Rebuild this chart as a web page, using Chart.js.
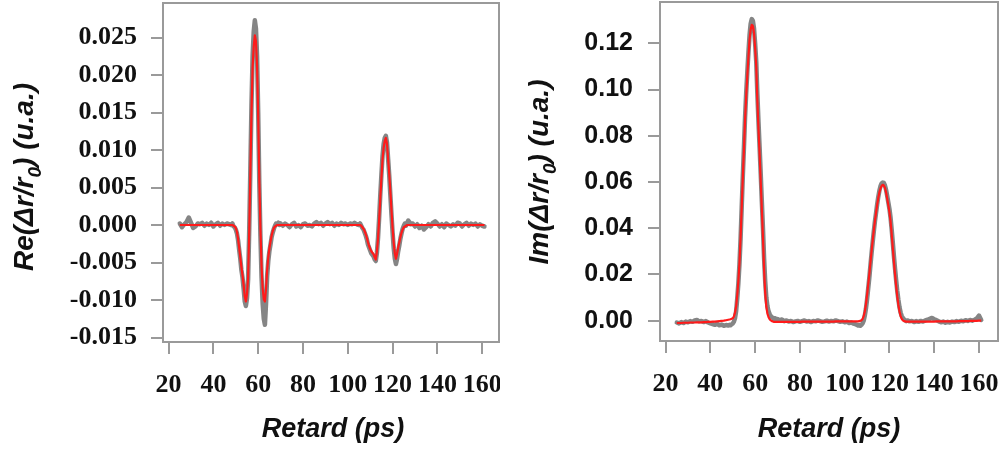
<!DOCTYPE html>
<html>
<head>
<meta charset="utf-8">
<script src="https://cdn.jsdelivr.net/npm/chart.js@4"></script>
<style>
body { margin: 0; background: #fff; width: 1000px; height: 450px; position: relative; overflow: hidden; }
canvas { position: absolute; top: 0; }
#reChart { left: 0; }
#imChart { left: 500px; }
</style>
</head>
<body>
<canvas id="reChart" width="500" height="450"></canvas>
<canvas id="imChart" width="500" height="450"></canvas>
<script>
// Retard (ps) - shared x grid for both panels
var retard = [
    25,26,27,28,29,30,31,32,33,34,35,36,37,38,39,40,41,42,43,44,45,46,47,48,
    48.5,49,49.5,50,50.5,51,51.5,52,52.5,53,53.5,54,54.5,55,55.5,56,56.5,57,57.5,58,
    58.5,59,59.5,60,60.5,61,61.5,62,62.5,63,63.5,64,64.5,65,65.5,66,66.5,67,67.5,68,68.5,69,69.5,70,
    71,72,73,74,75,76,77,78,79,80,81,82,83,84,85,86,87,88,89,90,91,92,93,94,95,96,97,98,99,100,101,102,103,104,105,
    105.5,106,106.5,107,107.5,108,108.5,109,109.5,110,110.5,111,111.5,112,112.5,113,113.5,114,114.5,115,
    115.5,116,116.5,117,117.5,118,118.5,119,119.5,120,120.5,121,121.5,122,122.5,123,123.5,124,124.5,125,
    125.5,126,126.5,127,127.5,128,
    129,130,131,132,133,134,135,136,137,138,139,140,141,142,143,144,145,146,147,148,149,150,151,152,153,154,155,156,157,158,159,160,161
];

// Re(dr/r0) - measured (gray)
var reData = [
    0.0002,-0.0003,0.0001,0.0004,0.0010,0.0003,-0.0004,-0.0002,0.0002,0.0001,0.0003,-0.0001,0.0002,0.0000,0.0003,-0.0002,0.0001,0.0003,-0.0001,0.0002,0.0000,0.0002,0.0001,0.0000,
    0.0002,-0.0002,-0.0003,-0.0006,-0.0011,-0.0020,-0.0033,-0.0045,-0.0060,-0.0070,-0.0085,-0.0102,-0.0108,-0.0098,-0.0072,-0.0005,0.0075,0.0160,0.0225,0.0258,
    0.0273,0.0262,0.0225,0.0150,0.0055,-0.0015,-0.0070,-0.0105,-0.0125,-0.0133,-0.0105,-0.0068,-0.0048,-0.0035,-0.0026,-0.0016,-0.0010,-0.0005,-0.0001,0.0002,0.0001,0.0003,0.0000,0.0002,
    -0.0001,0.0002,0.0000,-0.0003,0.0001,0.0003,-0.0002,0.0000,-0.0003,0.0001,0.0002,-0.0001,0.0000,-0.0002,0.0002,0.0004,0.0001,0.0003,-0.0001,0.0002,0.0004,0.0001,0.0003,-0.0001,0.0002,0.0000,0.0003,0.0001,0.0002,0.0000,0.0002,0.0001,0.0003,0.0001,0.0000,
    0.0002,-0.0001,-0.0004,-0.0006,-0.0010,-0.0014,-0.0019,-0.0026,-0.0030,-0.0034,-0.0038,-0.0040,-0.0042,-0.0046,-0.0048,-0.0037,-0.0017,0.0010,0.0040,0.0067,
    0.0092,0.0108,0.0116,0.0119,0.0110,0.0088,0.0066,0.0040,0.0014,-0.0010,-0.0031,-0.0045,-0.0052,-0.0045,-0.0035,-0.0027,-0.0018,-0.0011,-0.0005,-0.0001,
    0.0002,-0.0001,0.0003,0.0006,0.0004,0.0001,
    0.0002,-0.0002,0.0001,-0.0004,-0.0001,-0.0006,-0.0003,0.0001,-0.0002,0.0003,0.0005,0.0002,-0.0002,0.0001,-0.0003,0.0002,0.0000,-0.0002,0.0001,-0.0001,0.0003,0.0002,-0.0002,0.0001,0.0003,-0.0001,0.0002,0.0000,0.0002,-0.0002,0.0001,-0.0001,-0.0002
];

// Re(dr/r0) - fit (red)
var reFit = [
    0,0,0,0,0,0,0,0,0,0,0,0,0,0,0,0,0,0,0,0,0,0,0,0,
    0,-0.0001,-0.0002,-0.0004,-0.0009,-0.0018,-0.0030,-0.0043,-0.0056,-0.0067,-0.0080,-0.0095,-0.0102,-0.0092,-0.0070,-0.0008,0.0070,0.0150,0.0210,0.0238,
    0.0253,0.0245,0.0212,0.0145,0.0060,-0.0005,-0.0055,-0.0085,-0.0099,-0.0102,-0.0085,-0.0060,-0.0043,-0.0031,-0.0022,-0.0014,-0.0008,-0.0004,-0.0002,-0.0001,0,0,0,0,
    0,0,0,0,0,0,0,0,0,0,0,0,0,0,0,0,0,0,0,0,0,0,0,0,0,0,0,0,0,0,0,0,0,0,0,
    0,-0.0001,-0.0003,-0.0005,-0.0008,-0.0012,-0.0017,-0.0023,-0.0028,-0.0032,-0.0035,-0.0037,-0.0039,-0.0043,-0.0046,-0.0035,-0.0018,0.0007,0.0035,0.0062,
    0.0087,0.0103,0.0112,0.0116,0.0108,0.0088,0.0068,0.0045,0.0020,-0.0004,-0.0024,-0.0038,-0.0045,-0.0038,-0.0030,-0.0023,-0.0016,-0.0010,-0.0006,-0.0003,
    -0.0002,-0.0001,0,0,0,0,
    0,0,0,0,0,0,0,0,0,0,0,0,0,0,0,0,0,0,0,0,0,0,0,0,0,0,0,0,0,0,0,0,0
];

// Im(dr/r0) - measured (gray)
var imData = [
    -0.0008,-0.0012,-0.0006,-0.0010,-0.0004,-0.0007,-0.0002,-0.0005,0.0001,0.0003,-0.0003,-0.0001,-0.0006,-0.0002,-0.0008,-0.0012,-0.0015,-0.0018,-0.0014,-0.0020,-0.0017,-0.0022,-0.0019,-0.0021,
    -0.0018,-0.0020,-0.0016,-0.0012,-0.0005,0.0010,0.0040,0.0095,0.0160,0.0245,0.0355,0.0490,0.0625,0.0750,0.0880,0.0985,0.1075,0.1160,0.1235,0.1285,
    0.1305,0.1298,0.1265,0.1200,0.1120,0.0980,0.0860,0.0750,0.0635,0.0515,0.0400,0.0270,0.0170,0.0100,0.0062,0.0040,0.0028,0.0020,0.0014,0.0012,0.0006,0.0010,0.0004,0.0007,
    0.0002,0.0005,-0.0002,0.0001,-0.0004,-0.0001,-0.0006,-0.0003,-0.0001,-0.0005,-0.0002,0.0001,-0.0004,-0.0002,-0.0006,-0.0001,-0.0003,0.0001,-0.0002,-0.0005,-0.0003,0.0000,-0.0004,-0.0001,-0.0003,0.0001,-0.0002,-0.0005,-0.0003,-0.0007,-0.0004,-0.0010,-0.0008,-0.0013,-0.0016,
    -0.0018,-0.0021,-0.0019,-0.0022,-0.0018,-0.0012,0.0000,0.0022,0.0052,0.0092,0.0138,0.0185,0.0238,0.0290,0.0338,0.0385,0.0428,0.0465,0.0502,0.0535,
    0.0562,0.0582,0.0594,0.0598,0.0596,0.0585,0.0566,0.0540,0.0512,0.0484,0.0446,0.0395,0.0338,0.0280,0.0225,0.0175,0.0128,0.0090,0.0058,0.0035,
    0.0020,0.0012,0.0006,0.0002,-0.0002,0.0001,
    -0.0003,-0.0001,-0.0006,-0.0002,-0.0005,-0.0001,-0.0004,0.0001,0.0004,0.0008,0.0012,0.0006,0.0002,-0.0003,-0.0007,-0.0004,-0.0009,-0.0005,-0.0008,-0.0004,-0.0006,-0.0002,-0.0005,0.0000,-0.0003,0.0002,-0.0001,0.0003,0.0000,0.0004,0.0009,0.0022,0.0003
];

// Im(dr/r0) - fit (red)
var imFit = [
    -0.0010,-0.0010,-0.0010,-0.0009,-0.0009,-0.0009,-0.0008,-0.0008,-0.0008,-0.0007,-0.0007,-0.0007,-0.0006,-0.0006,-0.0005,-0.0005,-0.0004,-0.0004,-0.0003,-0.0002,-0.0001,0.0000,0.0002,0.0004,
    0.0005,0.0006,0.0008,0.0010,0.0018,0.0035,0.0060,0.0110,0.0170,0.0250,0.0360,0.0490,0.0620,0.0740,0.0870,0.0970,0.1060,0.1140,0.1215,0.1260,
    0.1280,0.1275,0.1245,0.1180,0.1100,0.0950,0.0830,0.0720,0.0600,0.0480,0.0360,0.0220,0.0120,0.0060,0.0030,0.0015,0.0006,0.0001,-0.0002,-0.0004,-0.0005,-0.0005,-0.0005,-0.0005,
    -0.0005,-0.0005,-0.0005,-0.0005,-0.0005,-0.0005,-0.0005,-0.0005,-0.0005,-0.0005,-0.0004,-0.0004,-0.0004,-0.0004,-0.0004,-0.0004,-0.0004,-0.0004,-0.0004,-0.0004,-0.0004,-0.0004,-0.0004,-0.0004,-0.0004,-0.0003,-0.0003,-0.0003,-0.0003,-0.0003,-0.0003,-0.0003,-0.0003,-0.0003,-0.0003,
    -0.0003,-0.0003,-0.0002,-0.0001,0.0002,0.0008,0.0020,0.0040,0.0070,0.0110,0.0155,0.0200,0.0250,0.0300,0.0345,0.0390,0.0430,0.0465,0.0500,0.0530,
    0.0555,0.0572,0.0583,0.0588,0.0585,0.0575,0.0555,0.0528,0.0500,0.0470,0.0430,0.0375,0.0315,0.0255,0.0200,0.0150,0.0105,0.0068,0.0040,0.0020,
    0.0008,0.0001,-0.0002,-0.0003,-0.0004,-0.0004,
    -0.0004,-0.0004,-0.0004,-0.0004,-0.0004,-0.0004,-0.0004,-0.0004,-0.0004,-0.0004,-0.0004,-0.0004,-0.0003,-0.0003,-0.0003,-0.0003,-0.0003,-0.0003,-0.0003,-0.0003,-0.0003,-0.0003,-0.0002,-0.0002,-0.0002,-0.0002,-0.0002,-0.0001,-0.0001,-0.0001,-0.0001,0.0000,0.0000
];

// tick labels
var xTicks = [20, 40, 60, 80, 100, 120, 140, 160];
var reTicks = [-0.015, -0.010, -0.005, 0, 0.005, 0.010, 0.015, 0.020, 0.025];
var imTicks = [0, 0.02, 0.04, 0.06, 0.08, 0.10, 0.12];

var SERIF = "'Liberation Serif', 'Times New Roman', serif";
var SANS = "'Liberation Sans', Arial, sans-serif";

function pts(ys) {
    return retard.map((x, i) => ({x: x, y: ys[i]}));
}

// draws "Re(dr/r0)" style text with the 0 as subscript, centred on 0,0
function drawRich(ctx, parts, size) {
    var w = 0;
    parts.forEach(p => {
        ctx.font = "italic bold " + (p[1] ? Math.round(size * 0.68) : size) + "px " + SANS;
        w += ctx.measureText(p[0]).width;
    });
    var x = -w / 2;
    parts.forEach(p => {
        ctx.font = "italic bold " + (p[1] ? Math.round(size * 0.68) : size) + "px " + SANS;
        ctx.fillText(p[0], x, p[1] ? size * 0.28 : 0);
        x += ctx.measureText(p[0]).width;
    });
}

var frame = {
    id: 'frame',
    beforeDatasetsDraw(chart) {
        var a = chart.chartArea, ctx = chart.ctx;
        ctx.save();
        ctx.strokeStyle = '#9a9a9a';
        ctx.lineWidth = 2;
        ctx.strokeRect(a.left, a.top, a.right - a.left, a.bottom - a.top);
        ctx.restore();
    },
    afterDraw(chart, args, o) {
        var ctx = chart.ctx;
        ctx.save();
        ctx.fillStyle = '#111';
        ctx.textBaseline = 'alphabetic';
        ctx.textAlign = 'left';
        // y title
        ctx.save();
        ctx.translate(o.yx, o.yy);
        ctx.rotate(-Math.PI / 2);
        drawRich(ctx, o.yTitle, 28);
        ctx.restore();
        // x title
        ctx.save();
        ctx.translate(o.xx, o.xy);
        drawRich(ctx, [["Retard (ps)", 0]], 27);
        ctx.restore();
        ctx.restore();
    }
};

function makeChart(id, data, fit, cfg) {
    var ctx = document.getElementById(id).getContext("2d");
    return new Chart(ctx, {
        type: "line",
        data: {
            datasets: [{
                data: pts(fit),
                borderColor: "#ff1a1a",
                borderWidth: 2.2,
                borderJoinStyle: "round",
                pointRadius: 0,
                fill: false,
                order: 0
            }, {
                data: pts(data),
                borderColor: "#858585",
                borderWidth: 4.5,
                borderJoinStyle: "round",
                borderCapStyle: "round",
                pointRadius: 0,
                fill: false,
                order: 1
            }]
        },
        options: {
            responsive: false,
            animation: false,
            events: [],
            layout: {padding: cfg.padding},
            plugins: {
                legend: {display: false},
                tooltip: {enabled: false},
                frame: cfg.titles
            },
            scales: {
                x: {
                    type: "linear",
                    min: cfg.xmin,
                    max: cfg.xmax,
                    afterFit: s => { s.height = cfg.xh; s.paddingLeft = 0; s.paddingRight = 0; },
                    afterBuildTicks: s => { s.ticks = xTicks.map(v => ({value: v})); },
                    border: {display: false},
                    grid: {drawOnChartArea: false, drawTicks: true, tickLength: 12, color: "#9a9a9a", lineWidth: 2},
                    ticks: {
                        autoSkip: false,
                        maxRotation: 0,
                        padding: 16,
                        color: "#111",
                        font: {family: SERIF, size: 26, weight: "bold"},
                        callback: v => String(v)
                    }
                },
                y: {
                    type: "linear",
                    min: cfg.ymin,
                    max: cfg.ymax,
                    afterFit: s => { s.width = cfg.yw; s.paddingTop = 0; s.paddingBottom = 0; },
                    afterBuildTicks: s => { s.ticks = cfg.yticks.map(v => ({value: v})); },
                    border: {display: false},
                    grid: {drawOnChartArea: false, drawTicks: true, tickLength: 12, color: "#9a9a9a", lineWidth: 2},
                    ticks: {
                        padding: cfg.ypad,
                        color: "#111",
                        font: cfg.yfont,
                        callback: v => (Math.abs(v) < 1e-9 ? 0 : v).toFixed(cfg.dec)
                    }
                }
            }
        },
        plugins: [frame]
    });
}

var reChart = makeChart("reChart", reData, reFit, {
    padding: {top: 3, right: 1, bottom: 0, left: 0},
    xmin: 17.5, xmax: 167.5, xh: 108,
    ymin: -0.0156, ymax: 0.0296, yw: 163, ypad: 14,
    yticks: reTicks, dec: 3,
    yfont: {family: SERIF, size: 26, weight: "bold"},
    titles: {
        yTitle: [["Re(\u0394r/r", 0], ["0", 1], [") (u.a.)", 0]],
        yx: 33, yy: 177, xx: 333, xy: 437
    }
});

var imChart = makeChart("imChart", imData, imFit, {
    padding: {top: 2, right: 2, bottom: 0, left: 0},
    xmin: 17.5, xmax: 168.5, xh: 109,
    ymin: -0.0088, ymax: 0.1379, yw: 160, ypad: 15,
    yticks: imTicks, dec: 2,
    yfont: {family: SANS, size: 25, weight: "bold"},
    titles: {
        yTitle: [["Im(\u0394r/r", 0], ["0", 1], [") (u.a.)", 0]],
        yx: 48, yy: 172, xx: 329, xy: 437
    }
});
</script>
</body>
</html>
